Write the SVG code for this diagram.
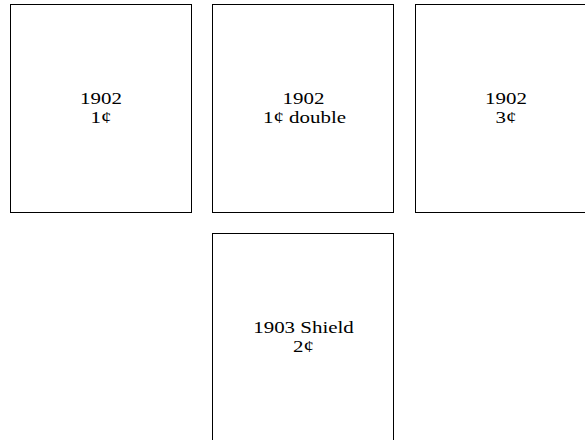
<svg xmlns="http://www.w3.org/2000/svg" width="585" height="440" viewBox="0 0 585 440">
<style>
.box{fill:#fff;stroke:#000;stroke-width:1}
.t{font-family:"Liberation Serif","Times New Roman",serif;font-size:16.5px;fill:#000;text-anchor:middle}
</style>
<rect width="585" height="440" fill="#fff"/>
<g id="n1"><rect class="box" x="10.5" y="4.5" width="181" height="208"/><text class="t" transform="translate(101,104) scale(1.27,1)">1902</text><text class="t" transform="translate(101,122.5) scale(1.27,1)">1¢</text></g>
<g id="n2"><rect class="box" x="212.5" y="4.5" width="181" height="208"/><text class="t" transform="translate(303.5,104) scale(1.27,1)">1902</text><text class="t" transform="translate(304.5,122.5) scale(1.27,1)">1¢ double</text></g>
<g id="n3"><rect class="box" x="415.5" y="4.5" width="181" height="208"/><text class="t" transform="translate(506,104) scale(1.27,1)">1902</text><text class="t" transform="translate(506,122.5) scale(1.27,1)">3¢</text></g>
<g id="n4"><rect class="box" x="212.5" y="233.5" width="181" height="208"/><text class="t" transform="translate(303.5,333) scale(1.27,1)">1903 Shield</text><text class="t" transform="translate(303.5,351.5) scale(1.27,1)">2¢</text></g>
<g id="connectors"></g>
</svg>
